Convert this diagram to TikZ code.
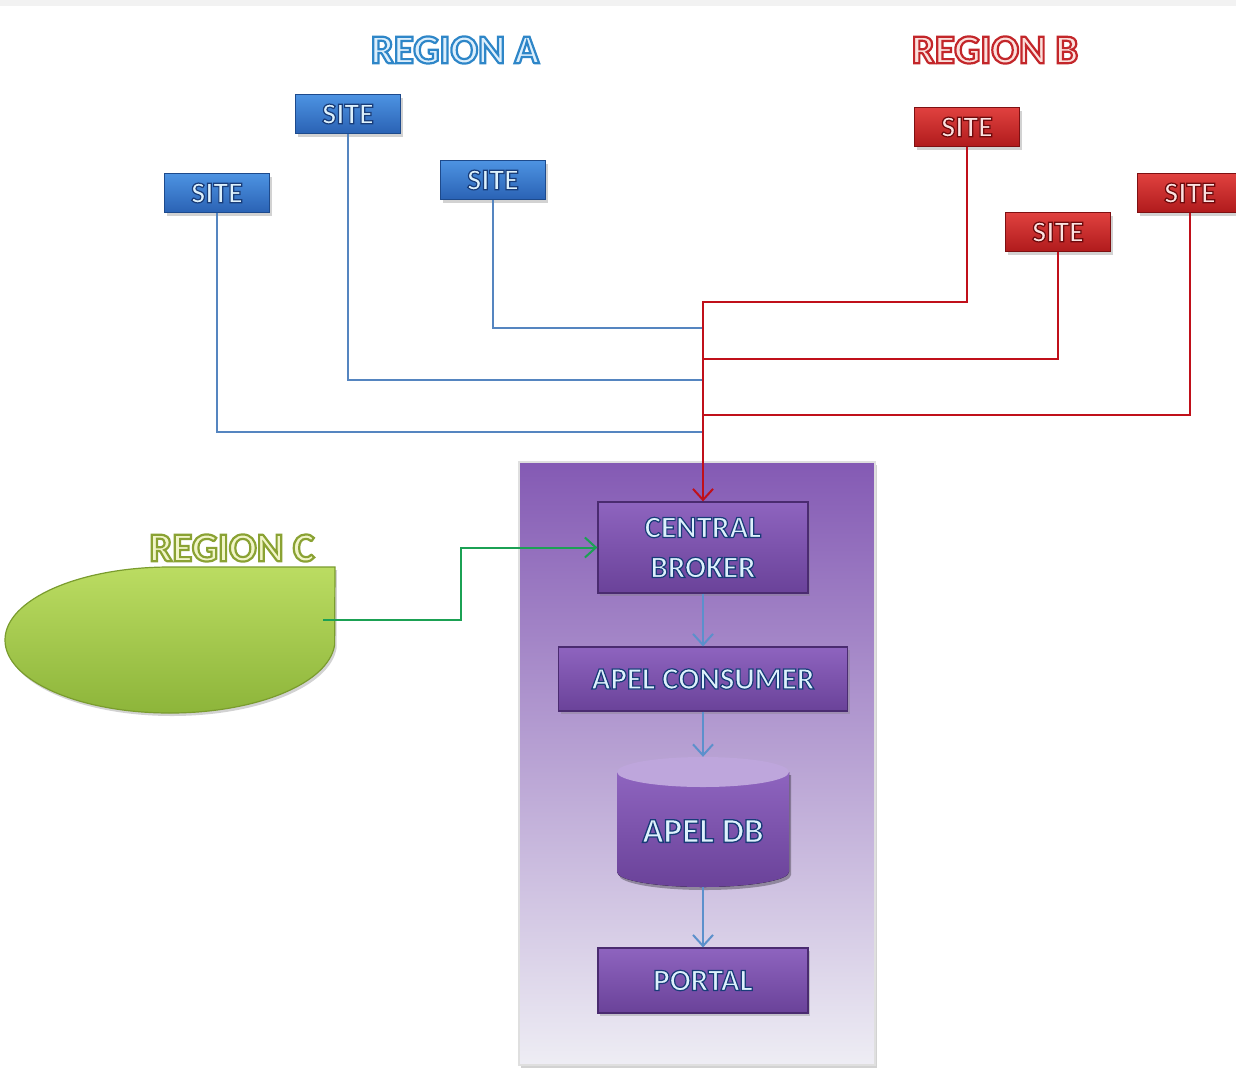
\documentclass[tikz,border=0pt]{standalone}
\usepackage{fontspec}
\setmainfont{Carlito}
\usetikzlibrary{arrows.meta,shadows}

\definecolor{blueTop}{HTML}{4D93E2}
\definecolor{blueBot}{HTML}{2A62B4}
\definecolor{blueEdge}{HTML}{1D4A8C}
\definecolor{redTop}{HTML}{E0413F}
\definecolor{redBot}{HTML}{B01A1C}
\definecolor{redEdge}{HTML}{7E1012}
\definecolor{purTop}{HTML}{8E64BF}
\definecolor{purBot}{HTML}{6A4299}
\definecolor{purEdge}{HTML}{4A2B70}
\definecolor{boxTop}{HTML}{845AB4}
\definecolor{boxMid}{HTML}{9A7EC0}
\definecolor{boxBot}{HTML}{EEEDF4}
\definecolor{grnTop}{HTML}{BBDC62}
\definecolor{grnBot}{HTML}{8DB53A}
\definecolor{grnEdge}{HTML}{7A9C2E}
\definecolor{lineBlue}{HTML}{5585C0}
\definecolor{lineRed}{HTML}{C0101A}
\definecolor{lineGreen}{HTML}{1BA154}
\definecolor{arrBlue}{HTML}{5C90CC}
\definecolor{txtLight}{HTML}{DDF1FC}
\definecolor{redTxtLight}{HTML}{FBE2E0}
\definecolor{regAfill}{HTML}{DDEFFC}
\definecolor{regBfill}{HTML}{FBE0DC}
\definecolor{regCfill}{HTML}{F1F5C8}
\definecolor{dbTop}{HTML}{BEA6DC}

% outlined text: #1 = stroke rgb (0-1), #2 = stroke width, #3 = text
\newcommand\otext[3]{\special{pdf:literal direct 2 Tr #2 w #1 RG}#3\special{pdf:literal direct 0 Tr}}
\newcommand\dk{0.10 0.235 0.47}
\newcommand\rdk{0.43 0.04 0.047}

\tikzset{
  x=1pt, y=-1pt,
  shadowed/.style={drop shadow={opacity=0.35, shadow xshift=2pt, shadow yshift=-3pt}},
  sitebox/.style={draw, line width=1.2pt, minimum width=105pt, minimum height=39pt, inner sep=0pt, shadowed,
     font=\fontsize{30}{30}\selectfont\bfseries},
  bluesite/.style={sitebox, top color=blueTop, bottom color=blueBot, draw=blueEdge, text=txtLight},
  redsite/.style={sitebox, top color=redTop, bottom color=redBot, draw=redEdge, text=redTxtLight},
  purbox/.style={draw=purEdge, line width=1.2pt, top color=purTop, bottom color=purBot, inner sep=0pt,
     text=txtLight, shadowed, font=\fontsize{31}{40}\selectfont\bfseries, align=center},
  region/.style={font=\fontsize{41}{41}\selectfont\bfseries, inner sep=0pt},
  blueline/.style={draw=lineBlue, line width=2pt},
  redline/.style={draw=lineRed, line width=2pt},
  vtip/.style={-{Straight Barb[length=11pt, width=20pt, line width=2pt]}},
  innerarrow/.style={draw=arrBlue, line width=2pt, vtip},
}

\begin{document}
\begin{tikzpicture}
\useasboundingbox (0,0) rectangle (1236,1074);
\fill[white] (0,0) rectangle (1236,1074);
\fill[gray!10] (0,0) rectangle (1236,6);

% region labels
\node[region, text=regAfill] (regiona) at (455,50) {\otext{0.18 0.525 0.784}{2.2}{REGION A}};
\node[region, text=regBfill] (regionb) at (995,50) {\otext{0.765 0.149 0.165}{2.2}{REGION B}};

% container
\node[draw=gray!25, line width=2pt, minimum width=356pt, minimum height=603pt,
      top color=boxTop, middle color=boxMid, bottom color=boxBot, shadowed] (box) at (697,763.5) {};

% region C shape
\draw[grnEdge, line width=1.2pt, top color=grnTop, bottom color=grnBot, shadowed]
  (335,567) -- (170,567)
  arc[start angle=270, end angle=90, x radius=165, y radius=73]
  arc[start angle=90, end angle=4, x radius=165, y radius=73] -- cycle;
\node[region, text=regCfill] (regionc) at (232,548) {\otext{0.54 0.635 0.2}{2.2}{REGION C}};
\coordinate (cgreen) at (323,620);

% sites
\node[bluesite] (a1) at (217,193) {\otext{\dk}{1.2}{SITE}};
\node[bluesite] (a2) at (348,114) {\otext{\dk}{1.2}{SITE}};
\node[bluesite] (a3) at (493,180) {\otext{\dk}{1.2}{SITE}};
\node[redsite] (b1) at (967,127) {\otext{\rdk}{1.2}{SITE}};
\node[redsite] (b2) at (1058,232) {\otext{\rdk}{1.2}{SITE}};
\node[redsite] (b3) at (1190,193) {\otext{\rdk}{1.2}{SITE}};

% central components
\node[purbox, minimum width=210pt, minimum height=91pt] (cb) at (703,547.5) {\otext{\dk}{1.2}{CENTRAL}\\\otext{\dk}{1.2}{BROKER}};
\node[purbox, minimum width=289pt, minimum height=64pt] (ac) at (703,679) {\otext{\dk}{1.2}{APEL CONSUMER}};
\node[purbox, minimum width=210pt, minimum height=65pt] (portal) at (703,980.5) {\otext{\dk}{1.2}{PORTAL}};

% database cylinder
\node[minimum width=172pt, minimum height=130pt, inner sep=0pt] (db) at (703,822) {};
\fill[black, opacity=0.3] (619,775) -- (619,875) arc[start angle=180, end angle=0, x radius=86, y radius=15] -- (791,775) -- cycle;
\fill[top color=purTop, bottom color=purBot] (617,772) -- (617,872)
   arc[start angle=180, end angle=0, x radius=86, y radius=15] -- (789,772) -- cycle;
\fill[dbTop] (703,772) ellipse[x radius=86, y radius=15];
\node[font=\fontsize{35}{35}\selectfont\bfseries, text=txtLight, inner sep=0pt] (dbtext) at (703,831) {\otext{\dk}{1.3}{APEL DB}};

% blue connectors (region A)
\coordinate (trunkTop) at (703,302);
\draw[blueline] (a1.south) |- (703,432);
\draw[blueline] (a2.south) |- (703,380);
\draw[blueline] (a3.south) |- (703,328);

% red connectors (region B)
\draw[redline] (b2.south) |- (703,359);
\draw[redline] (b3.south) |- (703,415);
\draw[redline, vtip] (b1.south) |- (trunkTop) -- (cb.north);

% green connector (region C)
\draw[draw=lineGreen, line width=2pt, vtip] (cgreen) -- (461,620) |- (cb.west);

% internal flow
\draw[innerarrow] (cb.south) -- (ac.north);
\draw[innerarrow] (ac.south) -- (db.north);
\draw[innerarrow] (db.south) -- (portal.north);
\end{tikzpicture}
\end{document}
